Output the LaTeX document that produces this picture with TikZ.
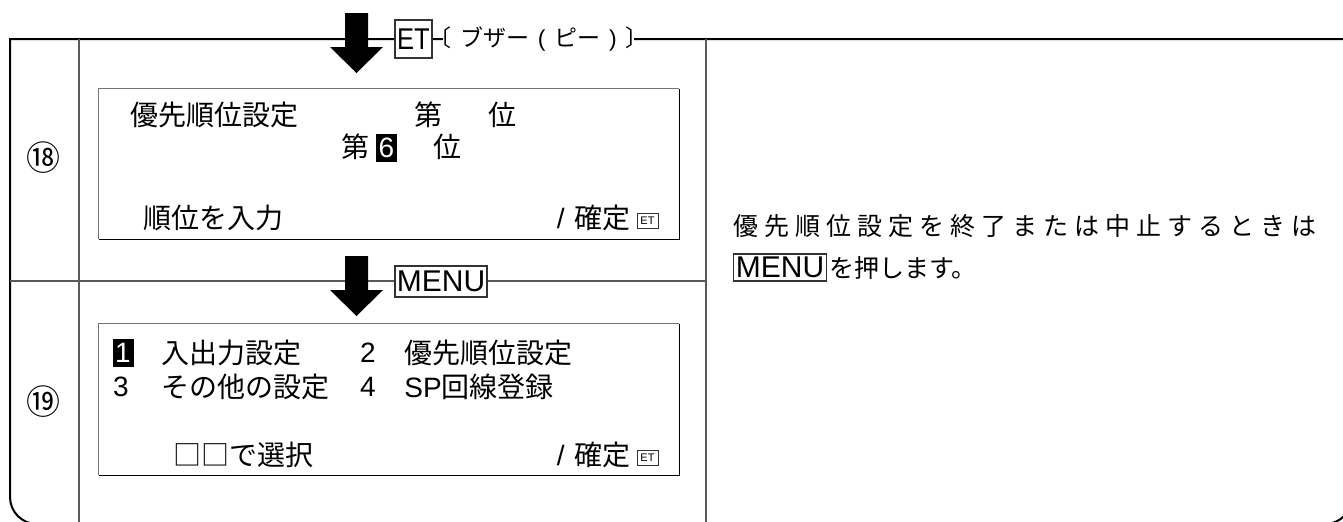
\documentclass[tikz,border=0pt]{standalone}
\usepackage{fontspec}
\setmainfont{Liberation Sans}
\newfontfamily\jp{Noto Sans CJK JP}
\newfontfamily\lt{Liberation Sans}
\begin{document}
\begin{tikzpicture}[x=0.5pt,y=-0.5pt,
  frame/.style={line width=1pt,black},
  divider/.style={line width=0.6pt,black!65},
  keybox/.style={draw=black!80,line width=0.6pt,fill=white,inner sep=0pt,font=\fontsize{15pt}{15pt}\selectfont},
  screen/.style={minimum width=290pt,inner sep=0pt},
  scr/.style={inner sep=0pt,font=\jp\fontsize{14pt}{16pt}\selectfont},
  lat/.style={inner sep=0pt,font=\fontsize{14pt}{16pt}\selectfont},
  inv/.style={fill=black,text=white,inner sep=0pt,minimum width=10.5pt,minimum height=14pt,font=\fontsize{14pt}{16pt}\selectfont},
  eticon/.style={draw=black!80,line width=0.4pt,inner sep=0pt,minimum width=10.5pt,minimum height=7.5pt,font=\fontsize{5.5pt}{5.5pt}\selectfont},
  desc/.style={inner sep=0pt,anchor=west,font=\jp\fontsize{12.5pt}{14pt}\selectfont},
  bigarrow/.style={fill=black}]
\useasboundingbox (0,0) rectangle (1343,521);
\begin{scope}
\clip (0,0) rectangle (1343,521);
\draw[frame] (443,39) -- (10,39) -- (10,497) arc[start angle=180,end angle=90,radius=27] -- (1325,524) arc[start angle=90,end angle=0,radius=27] -- (1352,39) -- (634,39);
\draw[divider] (79,39) -- (79,530);
\draw[divider] (706,39) -- (706,530);
\end{scope}
\draw[divider] (10,281) -- (706,281);

% row labels
\node[inner sep=0pt,font=\jp\fontsize{17pt}{17pt}\selectfont] (n18) at (43,158) {⑱};
\node[inner sep=0pt,font=\jp\fontsize{17pt}{17pt}\selectfont] (n19) at (43,402) {⑲};

% top arrow and ET key
\coordinate (a1) at (356.5,13);
\fill[bigarrow] (a1) ++(-11.5,0) -- ++(23,0) -- ++(0,34) -- ++(15,0) -- ++(-26.5,26) -- ++(-26.5,-26) -- ++(15,0) -- cycle;
\node[keybox,minimum width=18.5pt,minimum height=19pt] (et) at (413.5,39) {\scalebox{0.85}[1]{ET}};
\node[inner sep=0pt,anchor=west,font=\jp\fontsize{11.5pt}{11.5pt}\selectfont] (buz) at (428,39) {\makebox[110pt][s]{〔\hfill ブザー\hfill{\lt(}\hfill ピー\hfill{\lt)}\hfill 〕}};

% screen 18
\node[screen,minimum height=75pt] (s18) at (389,164) {};
\draw[black!55,line width=0.6pt] (s18.south west) |- (s18.north east);
\draw[black,line width=0.6pt] (s18.south west) -| (s18.north east);
\node[scr,anchor=west] (p1) at (130,115) {優先順位設定};
\node[scr] (d1) at (428,115) {第};
\node[scr] (i1) at (502,115) {位};
\node[scr] (d2) at (355.5,147) {第};
\node[inv] (six) at (386.5,147.5) {6};
\node[scr] (i2) at (447.5,147) {位};
\node[scr,anchor=west] (inp) at (143,218) {順位を入力};
\node[scr,anchor=east] (ok18) at (631,218) {{\lt/}\hspace{5pt}確定};
\node[eticon] (et18) at (647.5,220.5) {ET};

% bottom arrow and MENU key
\coordinate (a2) at (356.5,256);
\fill[bigarrow] (a2) ++(-11.5,0) -- ++(23,0) -- ++(0,34) -- ++(15,0) -- ++(-26.5,26) -- ++(-26.5,-26) -- ++(15,0) -- cycle;
\node[keybox,minimum width=46pt,minimum height=15.5pt] (menu) at (441,281.5) {MENU};

% screen 19
\node[screen,minimum height=75.5pt] (s19) at (389,399.5) {};
\draw[black!55,line width=0.6pt] (s19.south west) |- (s19.north east);
\draw[black,line width=0.6pt] (s19.south west) -| (s19.north east);
\node[inv] (one) at (123,353) {1};
\node[scr,anchor=west] (m1) at (161,353) {入出力設定};
\node[lat] (two) at (368,353) {2};
\node[scr,anchor=west] (m2) at (404,353) {優先順位設定};
\node[lat] (three) at (121,387) {3};
\node[scr,anchor=west] (m3) at (161,387) {その他の設定};
\node[lat] (four) at (368,387) {4};
\node[scr,anchor=west] (m4) at (404,387) {{\lt SP}回線登録};
\node[scr,anchor=west] (sel) at (173,455) {□□で選択};
\node[scr,anchor=east] (ok19) at (631,455) {{\lt/}\hspace{5pt}確定};
\node[eticon] (et19) at (647.5,457.5) {ET};

% description
\node[desc] (desc1) at (733,226) {\makebox[291.5pt][s]{優\hfill 先\hfill 順\hfill 位\hfill 設\hfill 定\hfill を\hfill 終\hfill 了\hfill ま\hfill た\hfill は\hfill 中\hfill 止\hfill す\hfill る\hfill と\hfill き\hfill は}};
\node[keybox,anchor=west,minimum width=46.5pt,minimum height=13.5pt] (menu2) at (733,267.5) {MENU};
\node[desc] (desc2) at (829,267.5) {を押します。};
\end{tikzpicture}
\end{document}
